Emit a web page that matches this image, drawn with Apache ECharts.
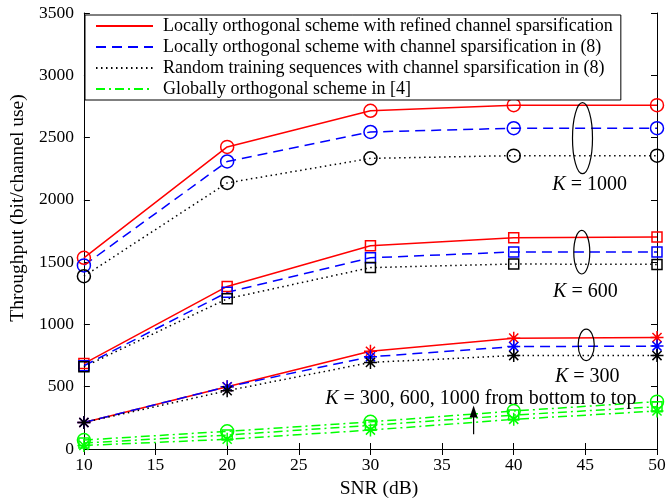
<!DOCTYPE html>
<html><head><meta charset="utf-8">
<script src="https://cdn.jsdelivr.net/npm/echarts@6/dist/echarts.min.js"></script>
<style>html,body{margin:0;padding:0;background:#fff}#c{width:670px;height:504px}</style>
</head><body><div id="c"></div>
<script>
const snr = [10, 20, 30, 40, 50];
const xTicks = [10, 15, 20, 25, 30, 35, 40, 45, 50];
const yTicks = [0, 500, 1000, 1500, 2000, 2500, 3000, 3500];
const legendNames = [
  'Locally orthogonal scheme with refined channel sparsification',
  'Locally orthogonal scheme with channel sparsification in (8)',
  'Random training sequences with channel sparsification in (8)',
  'Globally orthogonal scheme in [4]'
];
const refined1000 = [1535, 2425, 2715, 2760, 2760];
const refined600 = [686, 1305, 1632, 1695, 1702];
const refined300 = [213, 500, 785, 890, 895];
const sparse1000 = [1474, 2308, 2545, 2575, 2575];
const sparse600 = [668, 1258, 1535, 1582, 1582];
const sparse300 = [213, 500, 740, 822, 826];
const random1000 = [1387, 2136, 2333, 2355, 2355];
const random600 = [660, 1206, 1456, 1485, 1482];
const random300 = [213, 468, 695, 750, 750];
const global1000 = [72, 142, 218, 305, 380];
const global600 = [48, 112, 190, 272, 340];
const global300 = [28, 78, 152, 238, 305];

const FONT = 'Liberation Serif';
const FS = 17.5;
const chart = echarts.init(document.getElementById('c'), null, {renderer: 'canvas'});
const asterisk = 'path://M5 0L5 10M0 5L10 5M1.5 1.5L8.5 8.5M8.5 1.5L1.5 8.5';

function mk(name, data, color, type, symbol, size) {
  return {
    name: name, type: 'line', data: snr.map((x, i) => [x, data[i]]),
    symbol: symbol, symbolSize: size, showSymbol: true,
    lineStyle: {color: color, width: 1.5, type: type},
    itemStyle: {color: 'rgba(0,0,0,0)', borderColor: color, borderWidth: 1.5},
    emphasis: {disabled: true}, animation: false, z: 3
  };
}
const styles = [
  {c: '#ff0000', t: 'solid'},
  {c: '#0000ff', t: [10, 6]},
  {c: '#000000', t: [1.5, 3.5]},
  {c: '#00ff00', t: [9, 4, 2, 4]}
];
const groups = [
  [refined1000, refined600, refined300],
  [sparse1000, sparse600, sparse300],
  [random1000, random600, random300],
  [global1000, global600, global300]
];
const syms = [['circle', 13], ['rect', 10], [asterisk, 13]];
const series = [];
groups.forEach((g, gi) => {
  g.forEach((d, ki) => {
    series.push(mk(legendNames[gi], d, styles[gi].c, styles[gi].t, syms[ki][0], syms[ki][1]));
  });
});

const tickStyle = {show: true, inside: true, length: 6, lineStyle: {color: '#000'}};
const lineStyleAx = {show: true, lineStyle: {color: '#000', width: 1}};
const option = {
  animation: false,
  backgroundColor: '#fff',
  grid: {left: 82, right: 13, top: 13, bottom: 47},
  legend: {
    data: legendNames, orient: 'vertical', left: 85, top: 15,
    itemWidth: 57, itemHeight: 16, itemGap: 3,
    padding: [2, 8, 2, 10],
    backgroundColor: '#fff', borderColor: '#000', borderWidth: 1,
    itemStyle: {opacity: 0},
    textStyle: {fontFamily: FONT, fontSize: 18, color: '#000', padding: [0, 0, 0, 5]},
    selectedMode: false
  },
  xAxis: [
    {type: 'value', min: 10, max: 50, interval: 5,
      axisLine: lineStyleAx, axisTick: tickStyle, splitLine: {show: false},
      name: 'SNR (dB)', nameLocation: 'middle', nameGap: 30,
      nameTextStyle: {fontFamily: FONT, fontSize: 19.5, color: '#000', padding: [0, 0, 0, 17]},
      axisLabel: {fontFamily: FONT, fontSize: FS, color: '#000', margin: 7,
        formatter: v => xTicks.includes(v) ? String(v) : ''}},
    {type: 'value', min: 10, max: 50, interval: 5, position: 'top',
      axisLine: lineStyleAx, axisTick: tickStyle, splitLine: {show: false},
      axisLabel: {show: false}}
  ],
  yAxis: [
    {type: 'value', min: 0, max: 3500, interval: 500,
      axisLine: lineStyleAx, axisTick: tickStyle, splitLine: {show: false},
      name: 'Throughput (bit/channel use)', nameLocation: 'middle', nameGap: 52,
      nameTextStyle: {fontFamily: FONT, fontSize: 19.5, color: '#000', padding: [0, 0, 0, 46]},
      axisLabel: {fontFamily: FONT, fontSize: FS, color: '#000', margin: 10,
        formatter: v => yTicks.includes(v) ? String(v) : ''}},
    {type: 'value', min: 0, max: 3500, interval: 500, position: 'right',
      axisLine: lineStyleAx, axisTick: tickStyle, splitLine: {show: false},
      axisLabel: {show: false}}
  ],
  series: series
};
chart.setOption(option);

// annotations (data coordinates)
const ellipses = [
  {x: 44.8, y: 2495, rx: 10, ryv: 285},
  {x: 44.75, y: 1580, rx: 8, ryv: 175},
  {x: 45.06, y: 836, rx: 8, ryv: 126}
];
const labels = [
  {x: 45.3, y: 2120, k: '1000'},
  {x: 45.0, y: 1265, k: '600'},
  {x: 45.13, y: 578, k: '300'}
];
const toPx = p => chart.convertToPixel({xAxisIndex: 0, yAxisIndex: 0}, p);
const graphic = [];
ellipses.forEach(e => {
  const c = toPx([e.x, e.y]);
  const top = toPx([e.x, e.y + e.ryv]);
  graphic.push({type: 'ellipse', shape: {cx: c[0], cy: c[1], rx: e.rx, ry: c[1] - top[1]},
    style: {fill: 'none', stroke: '#000', lineWidth: 1.2}, z: 10, silent: true});
});
const AFS = 20;
const rich = {i: {fontFamily: FONT, fontSize: AFS, fontStyle: 'italic', fill: '#000'},
  n: {fontFamily: FONT, fontSize: AFS, fill: '#000'}};
labels.forEach(l => {
  const p = toPx([l.x, l.y]);
  graphic.push({type: 'text', x: p[0], y: p[1], z: 10, silent: true,
    style: {text: '{i|K}{n| = ' + l.k + '}', rich: rich, align: 'center', verticalAlign: 'middle'}});
});
const lt = toPx([37.7, 400]);
graphic.push({type: 'text', x: lt[0], y: lt[1], z: 10, silent: true,
  style: {text: '{i|K}{n| = 300, 600, 1000 from bottom to top}', rich: rich, align: 'center', verticalAlign: 'middle'}});
const a0 = toPx([37.2, 118]);
const a1 = toPx([37.2, 350]);
graphic.push({type: 'line', shape: {x1: a0[0], y1: a0[1], x2: a1[0], y2: a1[1] + 10},
  style: {stroke: '#000', lineWidth: 1.2}, z: 10, silent: true});
graphic.push({type: 'polygon', shape: {points: [[a1[0], a1[1]], [a1[0] - 4, a1[1] + 12], [a1[0] + 4, a1[1] + 12]]},
  style: {fill: '#000'}, z: 10, silent: true});
chart.setOption({graphic: graphic});
</script></body></html>
